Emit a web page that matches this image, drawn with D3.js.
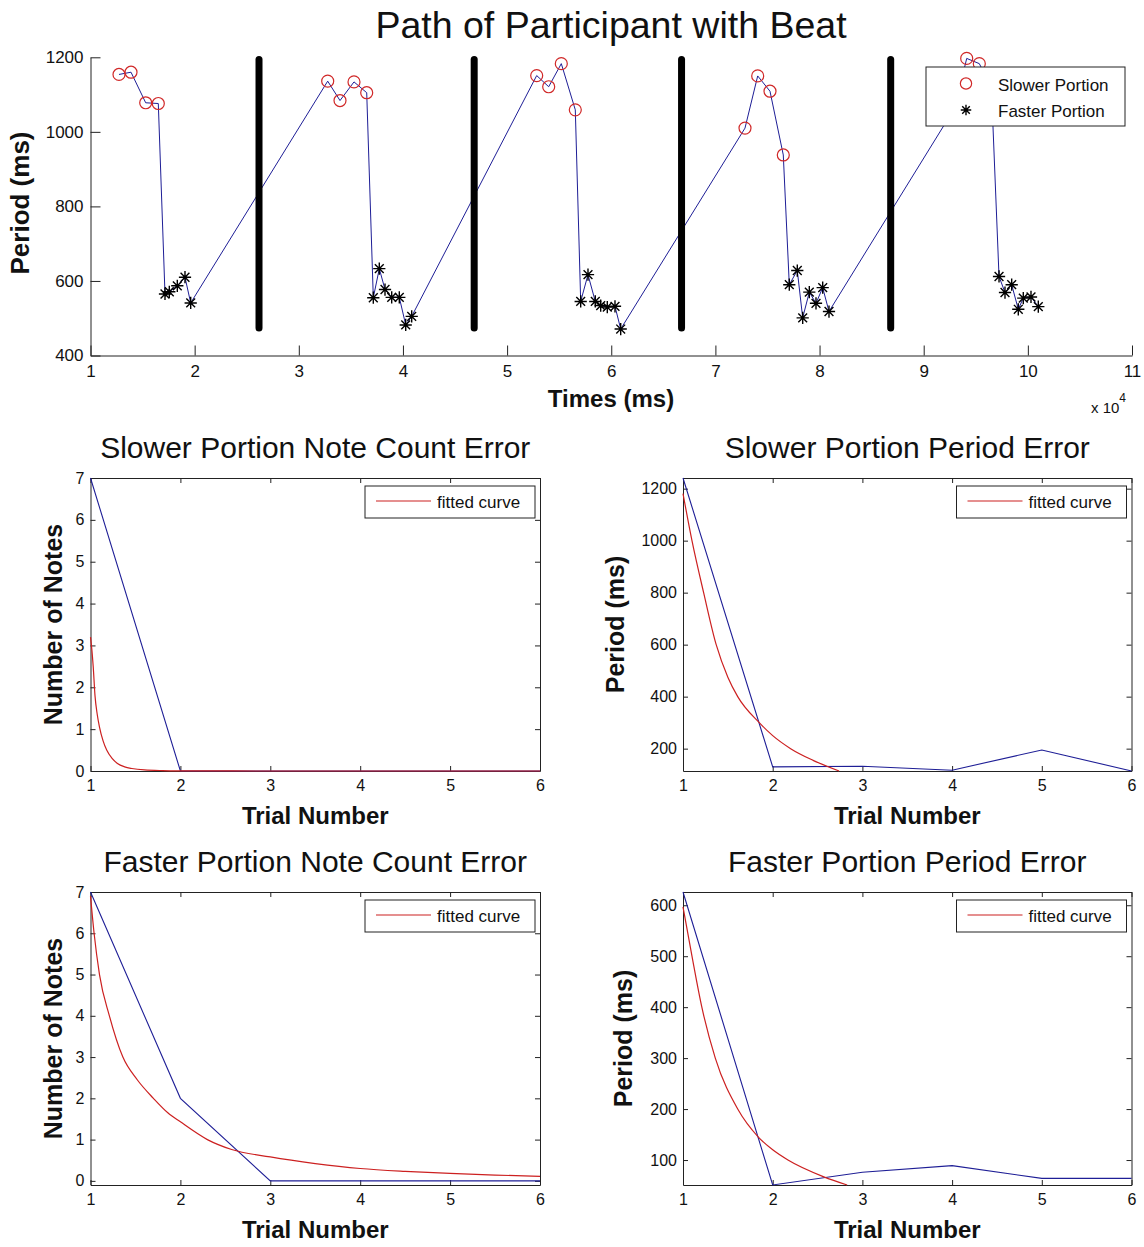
<!DOCTYPE html>
<html>
<head>
<meta charset="utf-8">
<script src="https://cdn.jsdelivr.net/npm/d3@7"></script>
<style>
  body { margin: 0; background: #fff; }
  svg text { font-family: "Liberation Sans", Arial, sans-serif; fill: #111; }
  .axis path, .axis line { stroke: #222; }
</style>
</head>
<body>
<svg id="chart" width="1144" height="1247"></svg>
<script>
// ---- top plot: path of participant (ms) ----
var slowerTimes = [12736, 13889, 15300, 16510, 32775, 33956, 35300, 36520, 52842, 53994, 55204, 56548,
                   72842, 74061, 75242, 76519, 93000, 94129, 95339, 96500];
var slowerPeriods = [1154, 1160, 1078, 1076, 1136, 1084, 1134, 1105, 1151, 1121, 1183, 1059,
                     1010, 1150, 1109, 938, 1065, 1197, 1183, 1120];
var fasterTimes = [17153, 17566, 18334, 19073, 19621,
                   37153, 37729, 38277, 38920, 39650, 40265, 40840,
                   57066, 57767, 58468, 58987, 59620, 60360, 60907,
                   77095, 77863, 78382, 79016, 79659, 80302, 80907,
                   97232, 97805, 98448, 99082, 99562, 100302, 101004];
var fasterPeriods = [565, 571, 587, 610, 541,
                     555, 633, 577, 556, 556, 482, 505,
                     545, 617, 545, 534, 530, 532, 471,
                     590, 628, 501, 570, 540, 582, 518,
                     612, 569, 590, 524, 554, 557, 531];
var beatTimes = [26180, 46840, 66750, 86830];
var beatSpan = [474, 1194];
var topXTickLabels = [1, 2, 3, 4, 5, 6, 7, 8, 9, 10, 11];   // x 10^4
var topYTicks = [400, 600, 800, 1000, 1200];

// ---- error subplots ----
var trialNumbers = [1, 2, 3, 4, 5, 6];

var slowCountError = [7, 0, 0, 0, 0, 0];
var slowCountFitTrial = [1, 1.015, 1.03, 1.05, 1.075, 1.1, 1.14, 1.18, 1.24, 1.3, 1.38, 1.46, 1.6, 1.8, 2, 3, 4, 5, 6];
var slowCountFitValue = [3.2, 2.9, 2.5, 1.8, 1.35, 1.05, 0.72, 0.5, 0.3, 0.18, 0.1, 0.06, 0.025, 0.01, 0.005, 0, 0, 0, 0];

var slowPeriodError = [1241, 130, 132, 117, 195, 114];
var slowPeriodFitTrial = [1, 1.1, 1.23, 1.37, 1.5, 1.61, 1.85, 2.0, 2.2, 2.45, 2.74];
var slowPeriodFitValue = [1181, 1000, 800, 600, 475, 400, 300, 250, 200, 155, 114];

var fastCountError = [7, 2, 0, 0, 0, 0];
var fastCountFitTrial = [1, 1.04, 1.1, 1.21, 1.36, 1.52, 1.7, 1.86, 2.0, 2.3, 2.57, 3, 3.5, 4, 4.5, 5, 5.5, 6];
var fastCountFitValue = [6.9, 6, 5, 4, 3, 2.45, 2.0, 1.65, 1.43, 1.0, 0.76, 0.58, 0.42, 0.3, 0.23, 0.18, 0.14, 0.11];

var fastPeriodError = [626, 51, 76, 89, 64, 64];
var fastPeriodFitTrial = [1, 1.1, 1.21, 1.36, 1.61, 1.84, 2.0, 2.17, 2.57, 2.83];
var fastPeriodFitValue = [597, 500, 400, 300, 200, 145, 120, 100, 67, 51];

var BLUE = "#1e1e96", RED = "#cc2020";
var plain = d3.format("d");

var svg = d3.select("#chart");
svg.append("rect").attr("width", 1144).attr("height", 1247).attr("fill", "#fff");

// matlab style '*' marker: a plus and a cross
var symbolStar = {
  draw: function (ctx, size) {
    var r = Math.sqrt(size) / 2, d = r * 0.72;
    ctx.moveTo(-r, 0); ctx.lineTo(r, 0);
    ctx.moveTo(0, -r); ctx.lineTo(0, r);
    ctx.moveTo(-d, -d); ctx.lineTo(d, d);
    ctx.moveTo(-d, d); ctx.lineTo(d, -d);
  }
};

function styleTicks(g, size) {
  g.attr("class", "axis").selectAll("text").attr("font-size", size).attr("fill", "#111");
  g.select(".domain").attr("stroke", "#222");
}

// ================= top plot =================
var x = d3.scaleLinear().domain([10000, 110000]).range([90.5, 1132]);
var y = d3.scaleLinear().domain([400, 1200]).range([355.5, 57.3]);

svg.append("text").attr("x", 611).attr("y", 38).attr("text-anchor", "middle")
   .attr("font-size", 37.5).text("Path of Participant with Beat");

svg.append("g").attr("transform", "translate(0,355.5)")
   .call(d3.axisBottom(x).tickValues(topXTickLabels.map(function (d) { return d * 10000; }))
         .tickFormat(function (d) { return plain(d / 10000); }).tickSize(-10).tickSizeOuter(0).tickPadding(9))
   .call(styleTicks, 17);
svg.append("g").attr("transform", "translate(90.5,0)")
   .call(d3.axisLeft(y).tickValues(topYTicks).tickFormat(plain).tickSize(-10).tickSizeOuter(0).tickPadding(7))
   .call(styleTicks, 17);

svg.append("text").attr("transform", "translate(29,203) rotate(-90)").attr("text-anchor", "middle")
   .attr("font-size", 26).attr("font-weight", "bold").text("Period (ms)");
svg.append("text").attr("x", 611).attr("y", 407).attr("text-anchor", "middle")
   .attr("font-size", 24).attr("font-weight", "bold").text("Times (ms)");
var mult = svg.append("text").attr("x", 1091).attr("y", 413).attr("font-size", 15).text("x 10");
mult.append("tspan").attr("dy", -11).attr("font-size", 12).text("4");

// path through all notes in time order
var notes = slowerTimes.map(function (t, i) { return { t: t, p: slowerPeriods[i], kind: "slow" }; })
  .concat(fasterTimes.map(function (t, i) { return { t: t, p: fasterPeriods[i], kind: "fast" }; }))
  .sort(function (a, b) { return a.t - b.t; });

svg.append("path").datum(notes)
   .attr("fill", "none").attr("stroke", BLUE).attr("stroke-width", 1)
   .attr("d", d3.line().x(function (d) { return x(d.t); }).y(function (d) { return y(d.p); }));

svg.selectAll(".slow").data(notes.filter(function (d) { return d.kind == "slow"; }))
   .enter().append("path").attr("class", "slow")
   .attr("transform", function (d) { return "translate(" + x(d.t) + "," + y(d.p) + ")"; })
   .attr("d", d3.symbol().type(d3.symbolCircle).size(113))
   .attr("fill", "none").attr("stroke", "#d02828").attr("stroke-width", 1.2);

svg.selectAll(".fast").data(notes.filter(function (d) { return d.kind == "fast"; }))
   .enter().append("path").attr("class", "fast")
   .attr("transform", function (d) { return "translate(" + x(d.t) + "," + y(d.p) + ")"; })
   .attr("d", d3.symbol().type(symbolStar).size(150))
   .attr("fill", "none").attr("stroke", "#000").attr("stroke-width", 1.4);

svg.selectAll(".beat").data(beatTimes).enter().append("line").attr("class", "beat")
   .attr("x1", function (d) { return x(d); }).attr("x2", function (d) { return x(d); })
   .attr("y1", y(beatSpan[0])).attr("y2", y(beatSpan[1]))
   .attr("stroke", "#000").attr("stroke-width", 7).attr("stroke-linecap", "round");

// legend of top plot
var lg = svg.append("g").attr("transform", "translate(926,67)");
lg.append("rect").attr("width", 199).attr("height", 59).attr("fill", "#fff").attr("stroke", "#222");
lg.append("path").attr("transform", "translate(40,16.5)")
  .attr("d", d3.symbol().type(d3.symbolCircle).size(100))
  .attr("fill", "none").attr("stroke", "#d02828").attr("stroke-width", 1.2);
lg.append("path").attr("transform", "translate(40,43)")
  .attr("d", d3.symbol().type(symbolStar).size(110))
  .attr("fill", "none").attr("stroke", "#000").attr("stroke-width", 1.4);
lg.append("text").attr("x", 72).attr("y", 23.5).attr("font-size", 17).text("Slower Portion");
lg.append("text").attr("x", 72).attr("y", 49.5).attr("font-size", 17).text("Faster Portion");

// ================= error subplots =================
function drawPanel(p) {
  var px = d3.scaleLinear().domain([1, 6]).range([p.left, p.right]);
  var py = d3.scaleLinear().domain(p.yDomain).range([p.bottom, p.top]);
  var g = svg.append("g");

  g.append("g").attr("transform", "translate(0," + p.bottom + ")")
   .call(d3.axisBottom(px).tickValues(trialNumbers).tickFormat(plain).tickSize(-5).tickSizeOuter(0).tickPadding(9))
   .call(styleTicks, 16);
  g.append("g").attr("transform", "translate(0," + p.top + ")")
   .call(d3.axisTop(px).tickValues(trialNumbers).tickFormat("").tickSize(-5).tickSizeOuter(0))
   .call(styleTicks, 16);
  g.append("g").attr("transform", "translate(" + p.left + ",0)")
   .call(d3.axisLeft(py).tickValues(p.yTicks).tickFormat(plain).tickSize(-5).tickSizeOuter(0).tickPadding(6))
   .call(styleTicks, 16);
  g.append("g").attr("transform", "translate(" + p.right + ",0)")
   .call(d3.axisRight(py).tickValues(p.yTicks).tickFormat("").tickSize(-5).tickSizeOuter(0))
   .call(styleTicks, 16);

  g.append("path").datum(p.actual)
   .attr("fill", "none").attr("stroke", BLUE).attr("stroke-width", 1.1)
   .attr("d", d3.line().x(function (d, i) { return px(trialNumbers[i]); }).y(function (d) { return py(d); }));

  g.append("path").datum(p.fitValue)
   .attr("fill", "none").attr("stroke", RED).attr("stroke-width", 1.2)
   .attr("d", d3.line().curve(d3.curveMonotoneX)
      .x(function (d, i) { return px(p.fitTrial[i]); }).y(function (d) { return py(d); }));

  var cx = (p.left + p.right) / 2;
  g.append("text").attr("x", cx).attr("y", p.top - 20).attr("text-anchor", "middle")
   .attr("font-size", 30).text(p.title);
  g.append("text").attr("x", cx).attr("y", p.bottom + 53).attr("text-anchor", "middle")
   .attr("font-size", 24).attr("font-weight", "bold").text("Trial Number");
  g.append("text").attr("transform", "translate(" + p.ylabelX + "," + (p.top + p.bottom) / 2 + ") rotate(-90)")
   .attr("text-anchor", "middle").attr("font-size", 25).attr("font-weight", "bold").text(p.ylabel);

  var leg = g.append("g").attr("transform", "translate(" + (p.right - 175) + "," + (p.top + 8) + ")");
  leg.append("rect").attr("width", 170).attr("height", 32).attr("fill", "#fff").attr("stroke", "#222");
  leg.append("line").attr("x1", 11).attr("x2", 66).attr("y1", 15).attr("y2", 15)
     .attr("stroke", RED).attr("stroke-width", 1.2);
  leg.append("text").attr("x", 72).attr("y", 22).attr("font-size", 17).text("fitted curve");
}

drawPanel({ left: 90.5, right: 540, top: 478, bottom: 771, yDomain: [0, 7], yTicks: d3.range(0, 8),
  title: "Slower Portion Note Count Error", ylabel: "Number of Notes", ylabelX: 62,
  actual: slowCountError, fitTrial: slowCountFitTrial, fitValue: slowCountFitValue });
drawPanel({ left: 683, right: 1131.5, top: 478, bottom: 771, yDomain: [114, 1241], yTicks: [200, 400, 600, 800, 1000, 1200],
  title: "Slower Portion Period Error", ylabel: "Period (ms)", ylabelX: 624,
  actual: slowPeriodError, fitTrial: slowPeriodFitTrial, fitValue: slowPeriodFitValue });
drawPanel({ left: 90.5, right: 540, top: 892, bottom: 1185, yDomain: [-0.1, 7], yTicks: d3.range(0, 8),
  title: "Faster Portion Note Count Error", ylabel: "Number of Notes", ylabelX: 62,
  actual: fastCountError, fitTrial: fastCountFitTrial, fitValue: fastCountFitValue });
drawPanel({ left: 683, right: 1131.5, top: 892, bottom: 1185, yDomain: [51, 626], yTicks: [100, 200, 300, 400, 500, 600],
  title: "Faster Portion Period Error", ylabel: "Period (ms)", ylabelX: 632,
  actual: fastPeriodError, fitTrial: fastPeriodFitTrial, fitValue: fastPeriodFitValue });
</script>
</body>
</html>
